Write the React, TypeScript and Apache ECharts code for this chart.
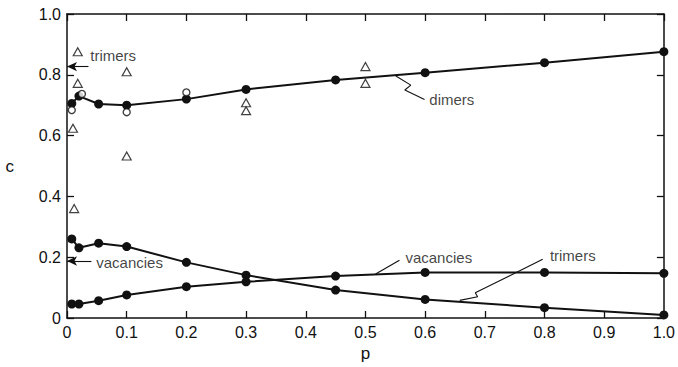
import React, { useEffect, useRef } from "react";
import * as echarts from "echarts";

// p values of the computed (filled) points
const pValues = [0.008, 0.02, 0.053, 0.1, 0.2, 0.3, 0.45, 0.6, 0.8, 1.0];
const dimers = [0.706, 0.73, 0.704, 0.7, 0.72, 0.752, 0.783, 0.807, 0.84, 0.876];
const trimers = [0.26, 0.231, 0.246, 0.235, 0.183, 0.141, 0.092, 0.061, 0.034, 0.01];
const vacancies = [0.046, 0.046, 0.057, 0.076, 0.103, 0.119, 0.138, 0.15, 0.15, 0.147];

// open circles
const openP = [0.008, 0.025, 0.1, 0.2];
const openC = [0.684, 0.737, 0.677, 0.742];

// open triangles
const triP = [0.01, 0.012, 0.018, 0.018, 0.1, 0.1, 0.3, 0.3, 0.5, 0.5];
const triC = [0.624, 0.36, 0.876, 0.772, 0.81, 0.533, 0.708, 0.682, 0.827, 0.772];

// axis ticks
const xTickStep = 0.1;
const yTickStep = 0.2;

// annotation texts (data coordinates of their left-middle point)
const annoNames = ["trimers", "vacancies", "dimers", "vacancies", "trimers"];
const annoP = [0.039, 0.049, 0.607, 0.567, 0.809];
const annoC = [0.862, 0.182, 0.719, 0.2, 0.207];

// leader lines
const dimersLeader = [[0.551, 0.796], [0.576, 0.766], [0.566, 0.75], [0.599, 0.719]];
const vacLeader = [[0.517, 0.145], [0.557, 0.19]];
const trimLeader = [[0.658, 0.058], [0.688, 0.07], [0.684, 0.083], [0.797, 0.193]];

// left arrows: [startP, c]
const arrowStarts = [[0.036, 0.827], [0.041, 0.1875]];

const INK = "#111";
const FONT = "'Liberation Sans', Arial, Helvetica, sans-serif";

const fmt = (v: number) => (Math.abs(v) < 1e-9 ? "0" : v.toFixed(1));

export default function App() {
  const ref = useRef<HTMLDivElement>(null);
  useEffect(() => {
    if (!ref.current) return;
    const chart = echarts.init(ref.current, null, { renderer: "svg" });
    const axisLine = { show: true, onZero: false, lineStyle: { color: INK, width: 1.5 } };
    const tick = { show: true, inside: true, length: 7, lineStyle: { color: INK, width: 1.3 } };
    const leaderStyle = { color: INK, width: 1.1 };
    const leader = (pts: number[][]) => ({
      type: "line",
      data: pts,
      symbol: "none",
      silent: true,
      lineStyle: leaderStyle,
      z: 1,
    });
    const curve = (vals: number[]) => ({
      type: "line",
      data: pValues.map((p, i) => [p, vals[i]]),
      symbol: "circle",
      symbolSize: 9,
      itemStyle: { color: INK },
      lineStyle: { color: INK, width: 2 },
      z: 3,
    });
    chart.setOption({
      animation: false,
      backgroundColor: "#fff",
      textStyle: { fontFamily: FONT },
      grid: { left: 67, right: 10, top: 14, bottom: 49 },
      xAxis: [
        {
          type: "value",
          min: 0,
          max: 1,
          interval: xTickStep,
          position: "bottom",
          axisLine,
          axisTick: tick,
          splitLine: { show: false },
          axisLabel: { formatter: fmt, fontSize: 16, color: INK, margin: 6, fontFamily: FONT },
          name: "p",
          nameLocation: "middle",
          nameGap: 25,
          nameTextStyle: { fontSize: 17, color: INK, fontFamily: FONT },
        },
        {
          type: "value",
          min: 0,
          max: 1,
          interval: xTickStep,
          position: "top",
          axisLine,
          axisTick: tick,
          splitLine: { show: false },
          axisLabel: { show: false },
        },
      ],
      yAxis: [
        {
          type: "value",
          min: 0,
          max: 1,
          interval: yTickStep,
          position: "left",
          axisLine,
          axisTick: tick,
          splitLine: { show: false },
          axisLabel: { formatter: fmt, fontSize: 16, color: INK, margin: 6, fontFamily: FONT },
          name: "c",
          nameLocation: "middle",
          nameRotate: 0,
          nameGap: 53,
          nameTextStyle: { fontSize: 17, color: INK, fontFamily: FONT },
        },
        {
          type: "value",
          min: 0,
          max: 1,
          interval: yTickStep,
          position: "right",
          axisLine,
          axisTick: tick,
          splitLine: { show: false },
          axisLabel: { show: false },
        },
      ],
      series: [
        curve(dimers),
        curve(trimers),
        curve(vacancies),
        {
          type: "scatter",
          data: openP.map((p, i) => [p, openC[i]]),
          symbol: "circle",
          symbolSize: 7,
          itemStyle: { color: "#fff", borderColor: INK, borderWidth: 1.4 },
          z: 4,
        },
        {
          type: "scatter",
          data: triP.map((p, i) => [p, triC[i]]),
          symbol: "triangle",
          symbolSize: [9, 8],
          itemStyle: { color: "#fff", borderColor: INK, borderWidth: 1.2 },
          z: 4,
        },
        leader(dimersLeader),
        leader(vacLeader),
        leader(trimLeader),
        {
          type: "scatter",
          symbolSize: 0,
          silent: true,
          data: annoNames.map((n, i) => ({ name: n, value: [annoP[i], annoC[i]] })),
          label: {
            show: true,
            position: "right",
            distance: 0,
            formatter: "{b}",
            fontSize: 15,
            color: INK,
            fontFamily: FONT,
          },
          markLine: {
            silent: true,
            symbolSize: [7, 10],
            lineStyle: { color: INK, width: 1.1, type: "solid" },
            label: { show: false },
            data: arrowStarts.map(([p, c]) => [
              { coord: [p, c], symbol: "none" },
              { coord: [0, c], symbol: "arrow" },
            ]),
          },
          z: 5,
        },
      ],
    });
    return () => chart.dispose();
  }, []);
  return (
    <div
      ref={ref}
      style={{ position: "fixed", left: 0, top: 0, width: 678, height: 367, background: "#fff" }}
    />
  );
}
